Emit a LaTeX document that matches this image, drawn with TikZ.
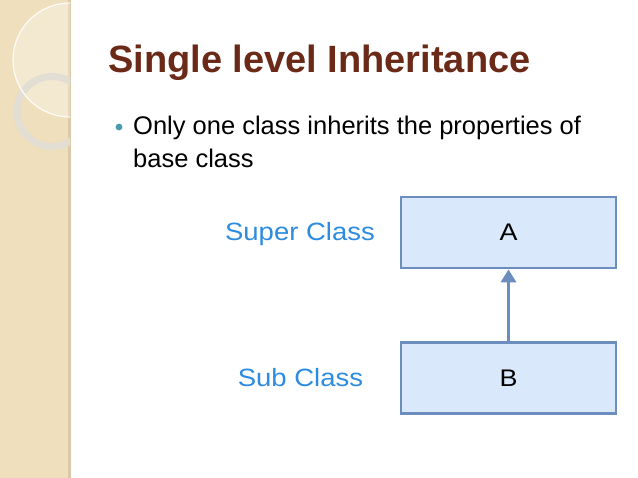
\documentclass[tikz,border=0pt]{standalone}
\usepackage{fontspec}
\setmainfont{Liberation Sans}
\usetikzlibrary{arrows.meta}
\definecolor{band}{HTML}{EFDFBC}
\definecolor{bandedge}{HTML}{D9C9A6}
\definecolor{titlec}{HTML}{6A2A17}
\definecolor{bullc}{HTML}{4A9AB0}
\definecolor{boxfill}{HTML}{DAE8FC}
\definecolor{boxline}{HTML}{6C8EBF}
\definecolor{lblc}{HTML}{2D8CE0}
\definecolor{ringc}{HTML}{E3DED3}
\tikzset{
  classbox/.style={draw=boxline, fill=boxfill, line width=2.8pt, minimum width=215pt, minimum height=71pt, inner sep=0pt, font=\fontsize{24}{28}\selectfont},
  lbl/.style={text=lblc, font=\fontsize{25}{28}\selectfont, inner sep=0pt, anchor=base},
}
\begin{document}
\begin{tikzpicture}[x=1pt,y=1pt]
\useasboundingbox (0,0) rectangle (638,478);
\fill[white] (0,0) rectangle (638,478);
% left band
\fill[band] (0,0) rectangle (70,478);
\fill[bandedge] (68,0) rectangle (71,478);
\begin{scope}
\clip (0,0) rectangle (70,478);
\fill[white, opacity=0.3] (70,418) circle (57);
\draw[ringc, line width=7pt] (52,366.5) circle (35);
\draw[white!90!band, line width=1.2pt] (70,418) circle (57);
\end{scope}
% title
\node[anchor=base west, inner sep=0pt, text=titlec, font=\bfseries\fontsize{38}{42}\selectfont] (title) at (108,405) {Single level Inheritance};
% bullet
\fill[bullc] (119,351) circle (3.4) coordinate (dot);
\node[anchor=base west, inner sep=0pt, font=\fontsize{25.5}{28}\selectfont] (line1) at (133,343) {Only one class inherits the properties of};
\node[anchor=base west, inner sep=0pt, font=\fontsize{25.5}{28}\selectfont] (line2) at (133,310) {base class};
% boxes
\node[classbox] (A) at (508.5,245.5) {\scalebox{1.12}[1]{A}};
\node[classbox] (B) at (508.5,100) {\scalebox{1.12}[1]{B}};
\draw[boxline, line width=3.4pt, -{Triangle[width=15pt,length=13pt]}] (B.north) -- (A.south);
% labels
\node[lbl] (sup) at (300,237) {\scalebox{1.1}[1]{Super Class}};
\node[lbl] (sub) at (300.5,91) {\scalebox{1.1}[1]{Sub Class}};
\end{tikzpicture}
\end{document}
